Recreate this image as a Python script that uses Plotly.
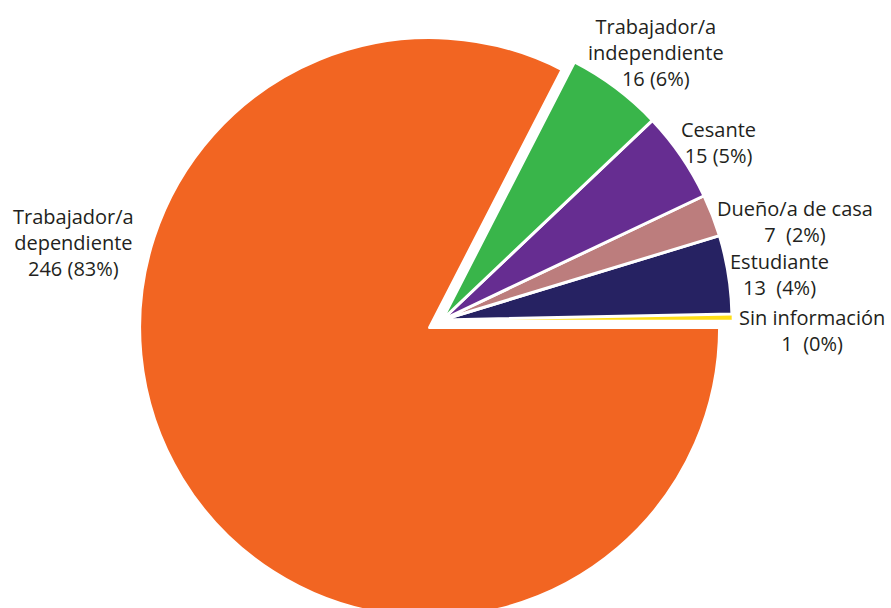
import plotly.graph_objects as go

# ---- data ----
labels = ["Sin información", "Estudiante", "Dueño/a de casa", "Cesante",
          "Trabajador/a independiente", "Trabajador/a dependiente"]
values = [1, 13, 7, 15, 16, 246]
label_texts = ["Sin información<br>1\u00a0 (0%)",
               "Estudiante<br>13\u00a0 (4%)",
               "Dueño/a de casa<br>7\u00a0 (2%)",
               "Cesante<br>15 (5%)",
               "Trabajador/a<br>independiente<br>16 (6%)",
               "Trabajador/a<br>dependiente<br>246 (83%)"]

# ---- style ----
colors = ["#FFDE17", "#262262", "#BC7D7D", "#662D91", "#39B54A", "#F26522"]
line_widths = [0.5, 3, 3, 3, 3, 3]
pulls = [0, 0, 0, 0, 0, 0.05]
W, H = 891, 640
# label centres in pixels
label_pos = [(812, 330), (779, 274), (795, 221), (718, 143), (656, 52), (73, 242)]

# first slice sits just above 3 o'clock, big slice closes at 3 o'clock
rotation = 90 - 360 * values[0] / sum(values)

fig = go.Figure(go.Pie(
    labels=labels, values=values, sort=False, direction="counterclockwise",
    rotation=rotation, pull=pulls, textinfo="none", hoverinfo="label+value",
    marker=dict(colors=colors, line=dict(color="white", width=line_widths)),
    domain=dict(x=[0.1543, 0.8378], y=[0, 1]),
))

for txt, (px, py) in zip(label_texts, label_pos):
    fig.add_annotation(x=px / W, y=1 - py / H, xref="paper", yref="paper",
                       text=txt, showarrow=False, align="center",
                       xanchor="center", yanchor="middle",
                       font=dict(family="Open Sans", size=20, color="#231F20"))

fig.update_layout(width=W, height=H, margin=dict(l=0, r=0, t=0, b=0),
                  showlegend=False, paper_bgcolor="white", plot_bgcolor="white")

fig.write_html("out.html", config={"displayModeBar": False},
               post_script="document.body.style.margin='0';"
                           "document.body.style.overflow='hidden';"
                           "document.documentElement.style.overflow='hidden';")
